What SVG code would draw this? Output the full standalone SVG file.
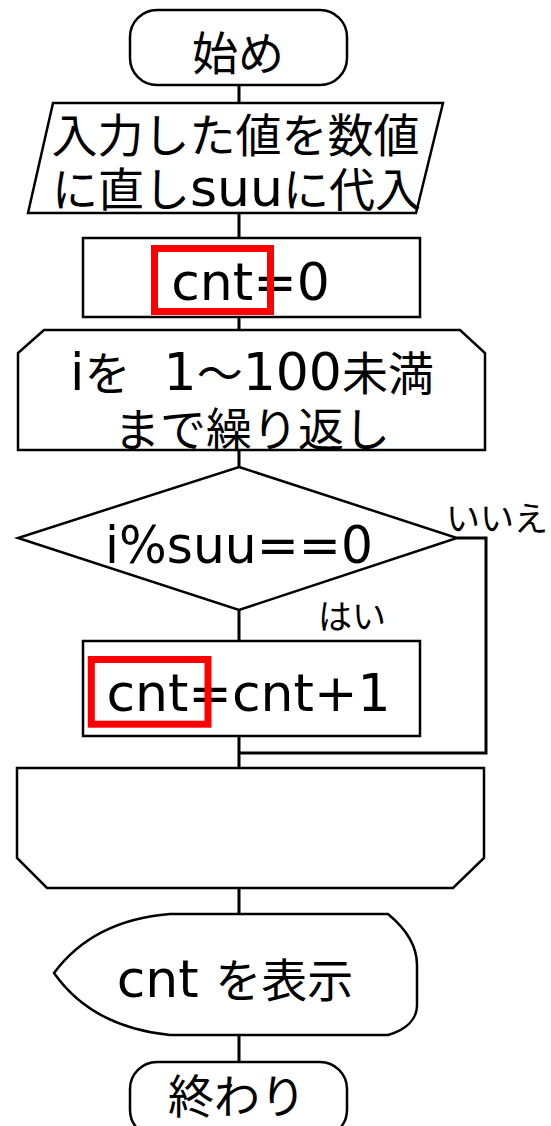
<svg xmlns="http://www.w3.org/2000/svg" width="551" height="1126" viewBox="0 0 551 1126">
<style>
.shape{fill:#fff;stroke:#000;stroke-width:2.5;stroke-linejoin:miter}
.conn{fill:none;stroke:#000;stroke-width:3}
.t{font-family:"Noto Sans CJK JP","DejaVu Sans",sans-serif;font-size:46px;fill:#000;text-anchor:middle}
.lat{font-family:"DejaVu Sans","Noto Sans CJK JP",sans-serif;font-size:52px}
.sm{font-family:"Noto Sans CJK JP",sans-serif;font-size:34px;fill:#000}
.red{fill:none;stroke:#ff0000;stroke-width:7}
</style>
<rect width="551" height="1126" fill="#fff"/>
<g id="connectors">
<path class="conn" d="M239,85V103"/>
<path class="conn" d="M239,213V238"/>
<path class="conn" d="M239,317V330"/>
<path class="conn" d="M239,450V467"/>
<path class="conn" d="M239,610V641"/>
<path class="conn" d="M239,736V768"/>
<path class="conn" d="M457,538H486V753H239"/>
<path class="conn" d="M239,888V914"/>
<path class="conn" d="M239,1035V1062"/>
</g>
<g id="start">
<rect class="shape" x="130" y="10" width="217" height="75" rx="27" ry="27"/>
<text class="t" x="238" y="70">始め</text>
</g>
<g id="input">
<polygon class="shape" points="53,103 443,103 416,213 28,213"/>
<text class="t" x="235.5" y="152">入力した値を数値</text>
<text class="t" x="236.5" y="206">に直し<tspan class="lat">suu</tspan>に代入</text>
</g>
<g id="init">
<rect class="shape" x="83" y="238" width="337" height="79"/>
<text class="t lat" x="250.5" y="300">cnt=0</text>
<rect class="red" x="154.5" y="248.5" width="116" height="63"/>
</g>
<g id="loop-start">
<polygon class="shape" points="44,330 460,330 485,353 485,450 18,450 18,353"/>
<text class="t" x="252" y="390"><tspan class="lat">i</tspan>を<tspan class="lat" dx="33">1</tspan>～<tspan class="lat">100</tspan>未満</text>
<text class="t" x="252" y="446">まで繰り返し</text>
</g>
<g id="decision">
<polygon class="shape" points="239,467 457,538 239,610 18,538"/>
<text class="t lat" x="239" y="563" textLength="268" lengthAdjust="spacingAndGlyphs">i%suu==0</text>
<text class="sm" x="446" y="531">いいえ</text>
<text class="sm" x="318" y="629">はい</text>
</g>
<g id="increment">
<rect class="shape" x="83" y="641" width="337" height="95"/>
<text class="t lat" x="248.5" y="711">cnt=cnt+1</text>
<rect class="red" x="91.3" y="659.5" width="116.7" height="64.7"/>
</g>
<g id="loop-end">
<polygon class="shape" points="17,768 484,768 484,858 453,888 47,888 17,858"/>
</g>
<g id="display">
<path class="shape" d="M170,914 H388 C405,928 417,945 417,965 V1005 C417,1020 405,1030 388,1035 H170 C120,1030 80,1010 54,973 C80,938 120,918 170,914 Z"/>
<text class="t" x="235" y="997"><tspan class="lat">cnt </tspan>を表示</text>
</g>
<g id="end">
<rect class="shape" x="130" y="1062" width="217" height="75" rx="27" ry="27"/>
<text class="t" x="237" y="1113">終わり</text>
</g>
</svg>
